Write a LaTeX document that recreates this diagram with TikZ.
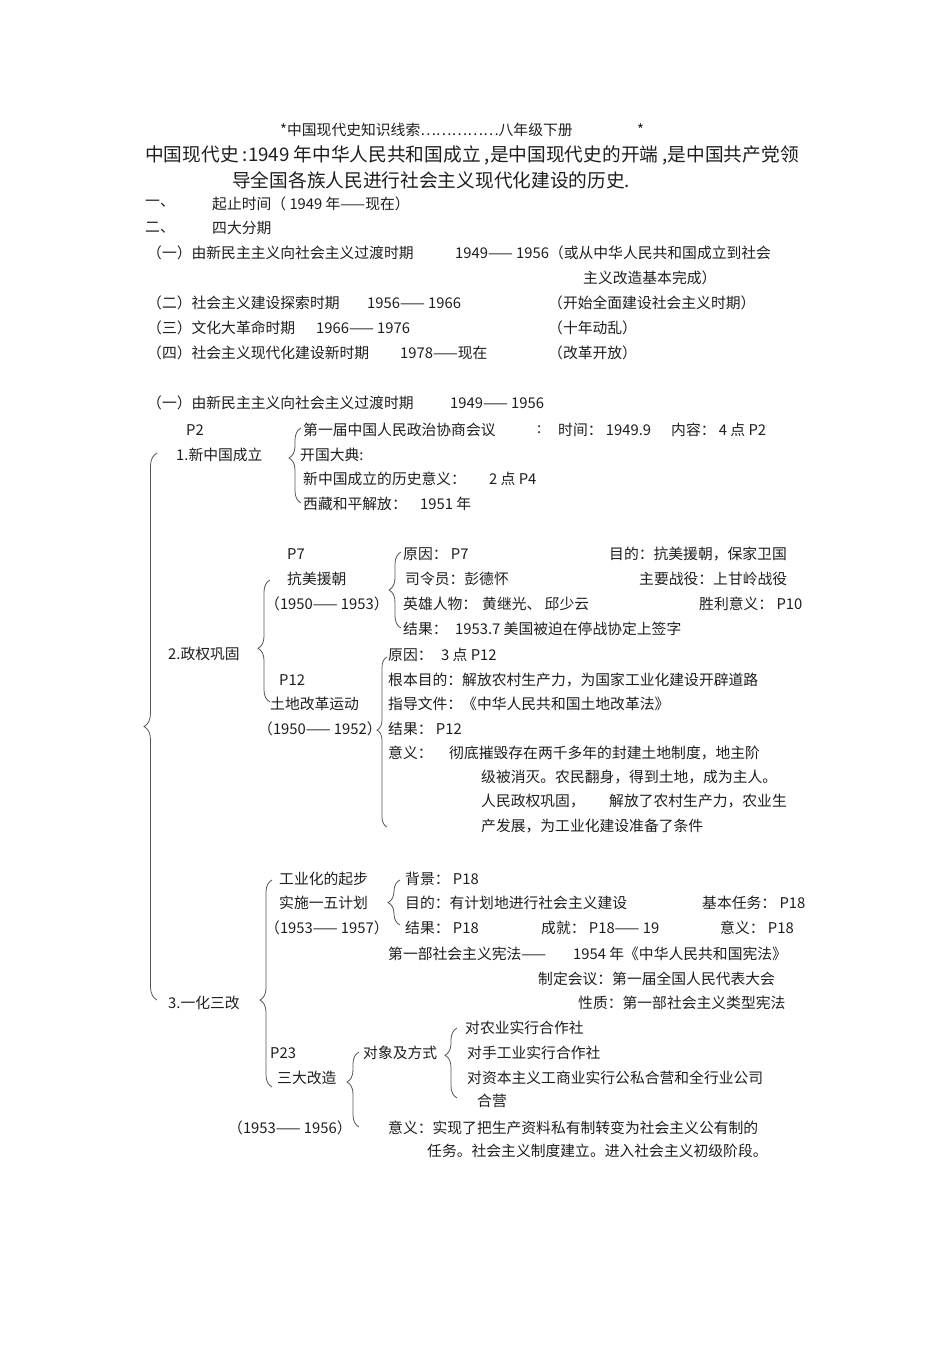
\documentclass[tikz,border=0pt]{standalone}
\usepackage{fontspec}
\setmainfont{Noto Sans CJK SC}
\usepackage{xcolor}
\usetikzlibrary{decorations.pathreplacing}
\definecolor{ink}{HTML}{1E1E1E}
\definecolor{bracegray}{HTML}{555555}
\newcommand\bodyfont{\fontsize{14.8}{17}\selectfont}
\newcommand\leadfont{\fontsize{18.7}{21}\selectfont}

\begin{document}
\begin{tikzpicture}[x=1pt,y=-1pt,
  txt/.style={anchor=west,inner sep=0pt,text=ink,font=\bodyfont},
  lead/.style={anchor=west,inner sep=0pt,text=ink,font=\leadfont},
  brc/.style={draw=bracegray,line width=.8pt,decorate,
    decoration={brace,amplitude=12pt,aspect=#1}}]
\useasboundingbox (0,0) rectangle (950,1345);
\node[txt] (title) at (280,130) {*中国现代史知识线索……………八年级下册};
\node[txt] (titlestar) at (637,130) {*};
\node[lead] (intro) at (145,155) {中国现代史 :1949 年中华人民共和国成立 ,是中国现代史的开端 ,是中国共产党领};
\node[lead] (intro2) at (232,180) {导全国各族人民进行社会主义现代化建设的历史.};
\node[txt] (one) at (145,204) {一、};
\node[txt] (span) at (212,204) {起止时间（ 1949 年——现在）};
\node[txt] (two) at (145,228) {二、};
\node[txt] (phases) at (212,228) {四大分期};
\node[txt] (pa) at (147,253) {（一）由新民主主义向社会主义过渡时期};
\node[txt] (payears) at (455,253) {1949—— 1956（或从中华人民共和国成立到社会};
\node[txt] (payears2) at (583,278) {主义改造基本完成）};
\node[txt] (pb) at (147,303) {（二）社会主义建设探索时期};
\node[txt] (pbyears) at (367,303) {1956—— 1966};
\node[txt] (pbnote) at (548,303) {（开始全面建设社会主义时期）};
\node[txt] (pc) at (147,328) {（三）文化大革命时期};
\node[txt] (pcyears) at (316,328) {1966—— 1976};
\node[txt] (pcnote) at (548,328) {（十年动乱）};
\node[txt] (pd) at (147,353) {（四）社会主义现代化建设新时期};
\node[txt] (pdyears) at (400,353) {1978——现在};
\node[txt] (pdnote) at (548,353) {（改革开放）};
\node[txt] (sec) at (147,403) {（一）由新民主主义向社会主义过渡时期};
\node[txt] (secyears) at (450,403) {1949—— 1956};
\node[txt] (founpage) at (186,430) {P2};
\node[txt] (founding) at (176,455) {1.新中国成立};
\node[txt] (cppcc) at (303,430) {第一届中国人民政治协商会议};
\node[txt] (cppcccolon) at (537,430) {:};
\node[txt] (cppcctime) at (558,430) {时间： 1949.9};
\node[txt] (cppccpts) at (671,430) {内容： 4 点 P2};
\node[txt] (ceremony) at (300,455) {开国大典:};
\node[txt] (meaning) at (303,479) {新中国成立的历史意义：};
\node[txt] (meaningpts) at (489,479) {2 点 P4};
\node[txt] (tibet) at (303,504) {西藏和平解放：};
\node[txt] (tibetyear) at (420,504) {1951 年};
\node[txt] (kmpage) at (287,554) {P7};
\node[txt] (korea) at (287,579) {抗美援朝};
\node[txt] (koreayears) at (265,604) {（1950—— 1953）};
\node[txt] (kcause) at (403,554) {原因： P7};
\node[txt] (kaim) at (609,554) {目的：抗美援朝，保家卫国};
\node[txt] (kcmd) at (405,579) {司令员：彭德怀};
\node[txt] (kbattle) at (639,579) {主要战役：上甘岭战役};
\node[txt] (kheroes) at (403,604) {英雄人物：};
\node[txt] (kheroes2) at (482,604) {黄继光、 邱少云};
\node[txt] (kwin) at (699,604) {胜利意义： P10};
\node[txt] (kres) at (403,629) {结果：};
\node[txt] (kres2) at (455,629) {1953.7 美国被迫在停战协定上签字};
\node[txt] (regime) at (168,654) {2.政权巩固};
\node[txt] (landpage) at (279,680) {P12};
\node[txt] (land) at (270,704) {土地改革运动};
\node[txt] (landyears) at (258,729) {（1950—— 1952）};
\node[txt] (lcause) at (388,655) {原因：};
\node[txt] (lcause2) at (441,655) {3 点 P12};
\node[txt] (laim) at (388,680) {根本目的：解放农村生产力，为国家工业化建设开辟道路};
\node[txt] (ldoc) at (388,704) {指导文件：《中华人民共和国土地改革法》};
\node[txt] (lres) at (388,729) {结果： P12};
\node[txt] (lsig) at (388,753) {意义：};
\node[txt] (lsig1) at (449,753) {彻底摧毁存在两千多年的封建土地制度，地主阶};
\node[txt] (lsig2) at (481,777) {级被消灭。农民翻身，得到土地，成为主人。};
\node[txt] (lsig3) at (481,801) {人民政权巩固，};
\node[txt] (lsig3b) at (609,801) {解放了农村生产力，农业生};
\node[txt] (lsig4) at (481,826) {产发展，为工业化建设准备了条件};
\node[txt] (indstart) at (279,879) {工业化的起步};
\node[txt] (plan) at (279,903) {实施一五计划};
\node[txt] (planyears) at (265,928) {（1953—— 1957）};
\node[txt] (pback) at (405,879) {背景： P18};
\node[txt] (paim) at (405,903) {目的：有计划地进行社会主义建设};
\node[txt] (ptask) at (702,903) {基本任务： P18};
\node[txt] (pres) at (405,928) {结果： P18};
\node[txt] (pgain) at (541,928) {成就： P18—— 19};
\node[txt] (psig) at (720,928) {意义： P18};
\node[txt] (const) at (388,954) {第一部社会主义宪法——};
\node[txt] (const2) at (573,954) {1954 年《中华人民共和国宪法》};
\node[txt] (constmeet) at (538,979) {制定会议：第一届全国人民代表大会};
\node[txt] (constkind) at (578,1003) {性质：第一部社会主义类型宪法};
\node[txt] (reform) at (168,1003) {3.一化三改};
\node[txt] (trpage) at (270,1053) {P23};
\node[txt] (three) at (277,1078) {三大改造};
\node[txt] (target) at (363,1053) {对象及方式};
\node[txt] (agri) at (465,1028) {对农业实行合作社};
\node[txt] (craft) at (467,1053) {对手工业实行合作社};
\node[txt] (comm) at (467,1078) {对资本主义工商业实行公私合营和全行业公司};
\node[txt] (comm2) at (477,1101) {合营};
\node[txt] (threeyears) at (228,1128) {（1953—— 1956）};
\node[txt] (tsig) at (388,1128) {意义：实现了把生产资料私有制转变为社会主义公有制的};
\node[txt] (tsig2) at (427,1151) {任务。社会主义制度建立。进入社会主义初级阶段。};
\coordinate (allbot) at (157,1000);
\coordinate (alltop) at (157,453);
\coordinate (foubot) at (301,503);
\coordinate (foutop) at (301,428);
\coordinate (regbot) at (270,702);
\coordinate (regtop) at (270,580);
\coordinate (korbot) at (401,628);
\coordinate (kortop) at (401,552);
\coordinate (lanbot) at (387,827);
\coordinate (lantop) at (387,657);
\coordinate (refbot) at (272,1087);
\coordinate (reftop) at (272,880);
\coordinate (plabot) at (400,925);
\coordinate (platop) at (400,880);
\coordinate (thrbot) at (359,1127);
\coordinate (thrtop) at (359,1052);
\coordinate (tarbot) at (457,1098);
\coordinate (tartop) at (457,1028);
\draw[brc=.5,decoration={amplitude=13pt}] (allbot) -- (alltop);
\draw[brc=.6] (foubot) -- (foutop);
\draw[brc=.44] (regbot) -- (regtop);
\draw[brc=.5] (korbot) -- (kortop);
\draw[brc=.57,decoration={amplitude=10pt}] (lanbot) -- (lantop);
\draw[brc=.42] (refbot) -- (reftop);
\draw[brc=.5] (plabot) -- (platop);
\draw[brc=.6] (thrbot) -- (thrtop);
\draw[brc=.61] (tarbot) -- (tartop);
\end{tikzpicture}
\end{document}
